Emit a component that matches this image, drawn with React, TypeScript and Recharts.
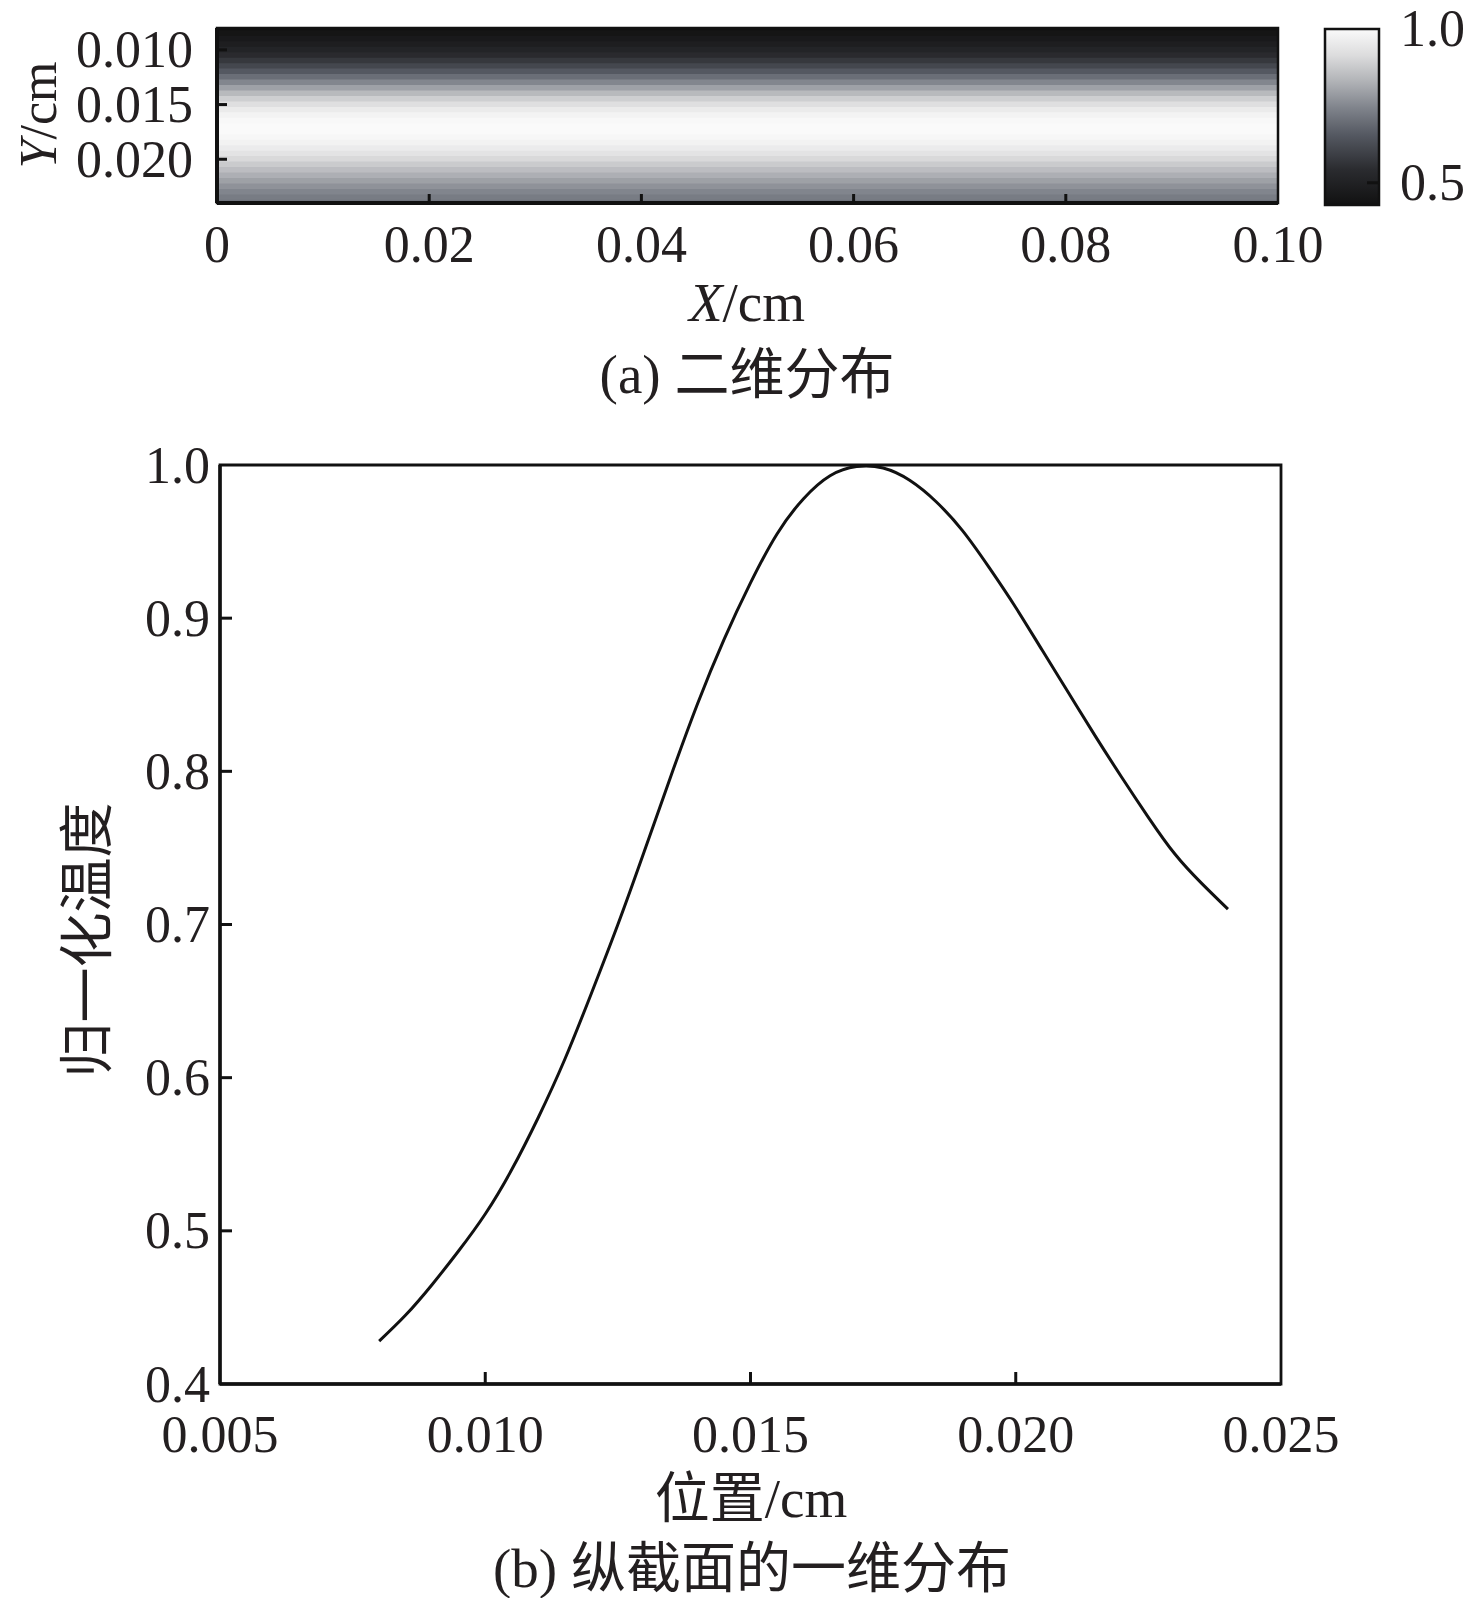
import React from 'react';
import { ComposedChart, LineChart, Line, XAxis, YAxis, ReferenceArea } from 'recharts';

// 纵截面位置 (cm) 与归一化温度
const positions = [
  0.008, 0.0085, 0.009, 0.0095, 0.01, 0.0105, 0.011, 0.0115, 0.012, 0.0125, 0.013,
  0.0135, 0.014, 0.0145, 0.015, 0.0155, 0.016, 0.0165, 0.017, 0.0175, 0.018, 0.0185,
  0.019, 0.0195, 0.02, 0.0205, 0.021, 0.0215, 0.022, 0.0225, 0.023, 0.0235, 0.024,
];
const temperature = [
  0.428, 0.445, 0.465, 0.487, 0.511, 0.54, 0.574, 0.612, 0.655, 0.7, 0.748,
  0.797, 0.844, 0.886, 0.923, 0.955, 0.978, 0.993, 0.999, 0.998, 0.99, 0.976,
  0.957, 0.933, 0.907, 0.879, 0.851, 0.823, 0.796, 0.77, 0.746, 0.727, 0.71,
];

// panel (a) axes
const topXTicks = [0, 0.02, 0.04, 0.06, 0.08, 0.1];
const topXLabels = ['0', '0.02', '0.04', '0.06', '0.08', '0.10'];
const topYTicks = [0.01, 0.015, 0.02];
const topYLabels = ['0.010', '0.015', '0.020'];
const cbTicks = [0.5, 1.0];
const cbLabels = ['0.5', '1.0'];

// panel (b) axes
const botXTicks = [0.005, 0.01, 0.015, 0.02, 0.025];
const botXLabels = ['0.005', '0.010', '0.015', '0.020', '0.025'];
const botYTicks = [0.4, 0.5, 0.6, 0.7, 0.8, 0.9, 1.0];
const botYLabels = ['0.4', '0.5', '0.6', '0.7', '0.8', '0.9', '1.0'];

const SERIF = '"Liberation Serif", "Times New Roman", "Noto Sans CJK SC", serif';
const INK = '#231f20';

// grey colour map used by the 2-D field and its colour bar
const cmap: [number, string][] = [
  [0, '#111111'],
  [0.2, '#2a2b2f'],
  [0.4, '#555962'],
  [0.55, '#7f838b'],
  [0.7, '#b0b2b6'],
  [0.85, '#dcdcdd'],
  [1, '#fafafa'],
];

const hex = (h: string) => [1, 3, 5].map(i => parseInt(h.slice(i, i + 2), 16));
function colorAt(t: number) {
  const c = Math.max(0, Math.min(1, t));
  for (let i = 1; i < cmap.length; i++) {
    if (c <= cmap[i][0]) {
      const [t0, h0] = cmap[i - 1];
      const [t1, h1] = cmap[i];
      const f = (c - t0) / (t1 - t0);
      const a = hex(h0), b = hex(h1);
      return `rgb(${a.map((v, k) => Math.round(v + (b[k] - v) * f)).join(',')})`;
    }
  }
  return cmap[cmap.length - 1][1];
}

const tMin = Math.min(...temperature);
const tMax = Math.max(...temperature);
const rows = positions.map((p, i) => ({ pos: p, temp: temperature[i] }));
const half = (positions[1] - positions[0]) / 2;
const bands = rows.map(r => ({
  y1: Math.max(positions[0], r.pos - half * 1.15),
  y2: Math.min(positions[positions.length - 1], r.pos + half * 1.15),
  fill: colorAt((r.temp - tMin) / (tMax - tMin)),
}));
const cbRows = [{ u: 0 }, { u: 1 }];

function BottomTick(props: any) {
  const { x = 0, y = 0, payload, ticks, labels, marks, markLen, gap, fontSize } = props;
  const v = payload.value;
  return (
    <g>
      {marks.includes(v) && <line x1={x} y1={y} x2={x} y2={y - markLen} stroke="#111" strokeWidth={3} />}
      <text x={x} y={y + gap} textAnchor="middle" dominantBaseline="central" fontSize={fontSize} fontFamily={SERIF} fill={INK}>
        {labels[ticks.indexOf(v)]}
      </text>
    </g>
  );
}

function SideTick(props: any) {
  const { x = 0, y = 0, payload, ticks, labels, marks, markLen, gap, fontSize, side } = props;
  const v = payload.value;
  const dir = side === 'left' ? 1 : -1;
  return (
    <g>
      {marks.includes(v) && <line x1={x} y1={y} x2={x + dir * markLen} y2={y} stroke="#111" strokeWidth={3} />}
      <text x={x - dir * gap} y={y} textAnchor={side === 'left' ? 'end' : 'start'} dominantBaseline="central" fontSize={fontSize} fontFamily={SERIF} fill={INK}>
        {labels[ticks.indexOf(v)]}
      </text>
    </g>
  );
}

const txt = { fontFamily: SERIF, fill: INK, textAnchor: 'middle' as const, dominantBaseline: 'central' as const };

export default function App() {
  return (
    <div style={{ position: 'absolute', left: 0, top: 0, width: 1476, height: 1598, background: '#fff' }}>
      {/* (a) 二维分布 */}
      <div style={{ position: 'absolute', left: 0, top: 0 }}>
        <ComposedChart width={1360} height={300} data={rows} margin={{ top: 28, right: 82, bottom: 0, left: 0 }}>
          {bands.map((b, i) => (
            <ReferenceArea key={i} x1={0} x2={0.1} y1={b.y1} y2={b.y2} fill={b.fill} fillOpacity={1} stroke="none" />
          ))}
          <ReferenceArea x1={0} x2={0.1} y1={positions[0]} y2={positions[positions.length - 1]} fill="none" stroke="#111" strokeWidth={2.5} />
          <XAxis
            type="number" dataKey="pos" domain={[0, 0.1]} ticks={topXTicks} interval={0} allowDataOverflow
            height={97} tickSize={0} tickMargin={0} tickLine={false}
            axisLine={{ stroke: '#111', strokeWidth: 4 }}
            tick={<BottomTick ticks={topXTicks} labels={topXLabels} marks={[0.02, 0.04, 0.06, 0.08]} markLen={9} gap={41} fontSize={52} />}
          />
          <YAxis
            type="number" domain={[positions[0], positions[positions.length - 1]]} reversed ticks={topYTicks} interval={0} allowDataOverflow
            width={217} tickSize={0} tickMargin={0} tickLine={false}
            axisLine={{ stroke: '#111', strokeWidth: 4 }}
            tick={<SideTick side="left" ticks={topYTicks} labels={topYLabels} marks={topYTicks} markLen={10} gap={24} fontSize={52} />}
          />
        </ComposedChart>
      </div>

      {/* colour bar */}
      <div style={{ position: 'absolute', left: 1300, top: 0 }}>
        <ComposedChart width={176} height={260} data={cbRows} margin={{ top: 29, right: 0, bottom: 0, left: 25 }}>
          <defs>
            <linearGradient id="cbGrad" x1="0" y1="1" x2="0" y2="0">
              {cmap.map(([t, c]) => (
                <stop key={t} offset={t} stopColor={c} />
              ))}
            </linearGradient>
          </defs>
          <ReferenceArea x1={0} x2={1} y1={tMin} y2={tMax} fill="url(#cbGrad)" fillOpacity={1} stroke="#111" strokeWidth={2.5} />
          <XAxis type="number" dataKey="u" domain={[0, 1]} allowDataOverflow height={55} tick={false} tickLine={false} axisLine={false} />
          <YAxis
            orientation="right" type="number" domain={[tMin, tMax]} ticks={cbTicks} interval={0} allowDataOverflow
            width={97} tickSize={0} tickMargin={0} tickLine={false} axisLine={false}
            tick={<SideTick side="right" ticks={cbTicks} labels={cbLabels} marks={[0.5]} markLen={12} gap={21} fontSize={52} />}
          />
        </ComposedChart>
      </div>

      {/* (b) 纵截面的一维分布 */}
      <div style={{ position: 'absolute', left: 0, top: 400 }}>
        <LineChart width={1360} height={1100} data={rows} margin={{ top: 65, right: 79, bottom: 0, left: 0 }}>
          <ReferenceArea x1={0.005} x2={0.025} y1={0.4} y2={1.0} fill="none" stroke="#111" strokeWidth={2.8} />
          <XAxis
            type="number" dataKey="pos" domain={[0.005, 0.025]} ticks={botXTicks} interval={0} allowDataOverflow
            height={116} tickSize={0} tickMargin={0} tickLine={false}
            axisLine={{ stroke: '#111', strokeWidth: 3.5 }}
            tick={<BottomTick ticks={botXTicks} labels={botXLabels} marks={[0.01, 0.015, 0.02]} markLen={12} gap={50} fontSize={52} />}
          />
          <YAxis
            type="number" domain={[0.4, 1.0]} ticks={botYTicks} interval={0} allowDataOverflow
            width={220} tickSize={0} tickMargin={0} tickLine={false}
            axisLine={{ stroke: '#111', strokeWidth: 3.5 }}
            tick={<SideTick side="left" ticks={botYTicks} labels={botYLabels} marks={[0.5, 0.6, 0.7, 0.8, 0.9]} markLen={12} gap={10} fontSize={52} />}
          />
          <Line type="natural" dataKey="temp" stroke="#111" strokeWidth={3} dot={false} isAnimationActive={false} />
        </LineChart>
      </div>

      {/* titles and captions */}
      <svg width={1476} height={1598} style={{ position: 'absolute', left: 0, top: 0, pointerEvents: 'none' }}>
        <text {...txt} fontSize={52} transform="translate(38,115) rotate(-90)">
          <tspan fontStyle="italic">Y</tspan>/cm
        </text>
        <text {...txt} fontSize={55} x={747} y={302}>
          <tspan fontStyle="italic">X</tspan>/cm
        </text>
        <text {...txt} fontSize={55} x={747} y={374}>(a) 二维分布</text>
        <text {...txt} fontSize={55} transform="translate(87,940) rotate(-90)">归一化温度</text>
        <text {...txt} fontSize={55} x={751} y={1498}>位置/cm</text>
        <text {...txt} fontSize={55} x={752} y={1568}>(b) 纵截面的一维分布</text>
      </svg>
    </div>
  );
}
